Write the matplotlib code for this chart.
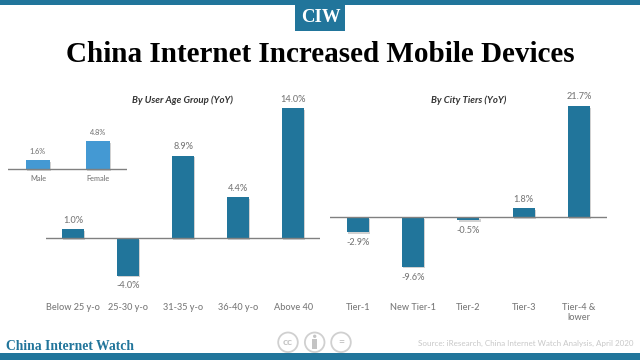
import matplotlib
matplotlib.use("Agg")
import matplotlib.pyplot as plt
import matplotlib.patheffects as pe
from matplotlib.patches import Rectangle, Circle

age_groups = ["Below 25 y-o", "25-30 y-o", "31-35 y-o", "36-40 y-o", "Above 40"]
age_values = [1.0, -4.0, 8.9, 4.4, 14.0]
tiers = ["Tier-1", "New Tier-1", "Tier-2", "Tier-3", "Tier-4 &\nlower"]
tier_values = [-2.9, -9.6, -0.5, 1.8, 21.7]
genders = ["Male", "Female"]
gender_values = [1.6, 4.8]

W, H = 640, 360
BLUE = "#21759b"
LIGHT = "#4499d3"
GREY = "#787878"
SANS = ["Lato", "DejaVu Sans"]
SERIF = ["Liberation Serif", "DejaVu Serif"]

fig = plt.figure(figsize=(W / 100, H / 100), dpi=100, facecolor="white")

bg = fig.add_axes([0, 0, 1, 1], zorder=0)
bg.set_xlim(0, W)
bg.set_ylim(H, 0)
bg.axis("off")
for cx, s in [(288, "cc"), (341, "=")]:
    bg.add_patch(Circle((cx, 342.3), 9.8, fc="white", ec="#d0d0d0", lw=1.3, zorder=1))
    bg.text(cx, 342.3, s, color="#c4c4c4", family=SANS, weight="bold", fontsize=7.5,
            ha="center", va="center", zorder=1)
bg.add_patch(Circle((314.7, 342.3), 9.8, fc="white", ec="#d0d0d0", lw=1.3, zorder=1))
bg.add_patch(Circle((314.7, 336.3), 1.7, fc="#c4c4c4", ec="none", zorder=1))
bg.add_patch(Rectangle((312.4, 339), 4.6, 10, fc="#c4c4c4", ec="none", zorder=1))
bg.add_patch(Rectangle((0, 0), W, 5, color=BLUE, lw=0, zorder=2))
bg.add_patch(Rectangle((0, 353), W, 7, color=BLUE, lw=0, zorder=2))
bg.add_patch(Rectangle((295, 5), 50, 26, color=BLUE, lw=0, zorder=2))
bg.text(320.5, 17.5, "CIW", color="white", family=SERIF, weight="bold", fontsize=13.5,
        ha="center", va="center", zorder=3)
bg.text(320, 55, "China Internet Increased Mobile Devices", color="black", family=SERIF,
        weight="bold", fontsize=21, ha="center", va="center", zorder=3)
bg.text(6, 346.5, "China Internet Watch", color=BLUE, family=SERIF, weight="bold",
        fontsize=9.85, ha="left", va="center", zorder=3)
bg.text(633, 343, "Source: iResearch, China Internet Watch Analysis, April 2020", color="#c8c8c8",
        family=SANS, fontsize=5.75, ha="right", va="center", zorder=3)
bg.text(182, 100, "By User Age Group (YoY)", color="#333333", family=SANS, weight="bold",
        style="italic", fontsize=6.9, ha="center", va="center", zorder=3)
bg.text(468.5, 100.5, "By City Tiers (YoY)", color="#333333", family=SANS, weight="bold",
        style="italic", fontsize=6.9, ha="center", va="center", zorder=3)


def panel(labels, values, x0, x1, first, step, width, zero, scale, top, bottom,
          color, fs, lab_up, lab_down, pad):
    ax = fig.add_axes([x0 / W, 1 - bottom / H, (x1 - x0) / W, (bottom - top) / H],
                      zorder=2, facecolor="none")
    ax.set_xlim((x0 - first) / step, (x1 - first) / step)
    ax.set_ylim((zero - bottom) / scale, (zero - top) / scale)
    shadow = [pe.SimplePatchShadow(offset=(0.8, -1.2), shadow_rgbFace="#000000", alpha=0.18), pe.Normal()]
    bars = ax.bar(range(len(values)), values, width=width / step, color=color, lw=0, zorder=2)
    for b in bars:
        b.set_path_effects(shadow)
    ax.axhline(0, color="#808080", lw=1.0, zorder=3)
    for i, v in enumerate(values):
        ax.annotate(f"{v:.1f}%", (i, v), xytext=(0, lab_up if v >= 0 else -lab_down),
                    textcoords="offset pixels", ha="center", va="center",
                    color=GREY, family=SANS, weight="medium", fontsize=fs)
    ax.set_xticks(range(len(values)), labels)
    ax.set_yticks([])
    ax.tick_params(axis="x", length=0, pad=pad, colors=GREY, labelsize=fs)
    for t in ax.get_xticklabels():
        t.set_family(SANS)
        t.set_weight("medium")
        t.set_linespacing(1.2)
    for s in ax.spines.values():
        s.set_visible(False)
    return ax


panel(age_groups, age_values, 46, 320, 73.3, 55, 22, 238.3, 9.3, 95, 302, BLUE, 6.6, 9, 10.5, 0.5)
panel(tiers, tier_values, 330, 607, 358, 55.2, 22, 217.3, 5.13, 95, 302, BLUE, 6.6, 9, 10.5, 0.5)
panel(genders, gender_values, 8, 127, 38, 60, 24, 169.3, 5.9, 125, 175, LIGHT, 5.3, 8, 8, 0)

fig.savefig("out.png", dpi=100, facecolor="white")
